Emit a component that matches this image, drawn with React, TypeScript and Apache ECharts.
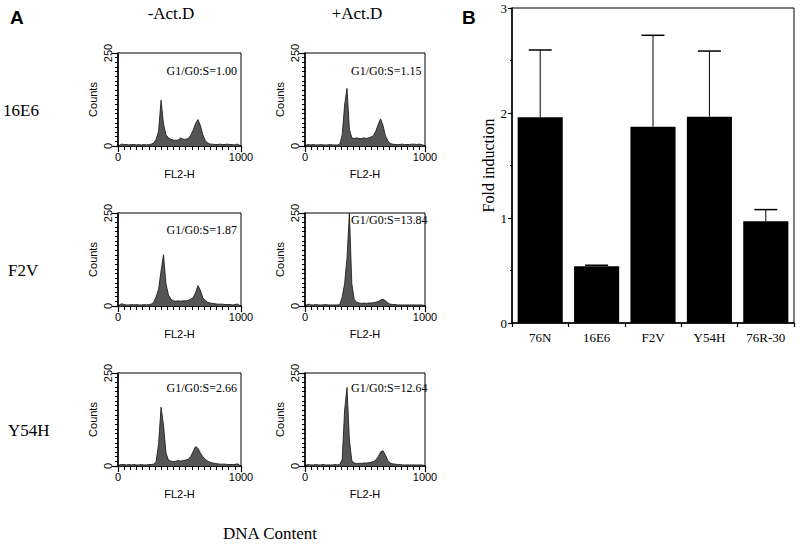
import React, { useEffect, useRef } from "react";
import * as echarts from "echarts";

const SERIF = '"Liberation Serif", "Times New Roman", serif';
const SANS = '"Liberation Sans", Arial, sans-serif';

// DNA content channel (bin centres, FL2-H)
const BIN_CENTERS = [10, 30, 50, 70, 90, 110, 130, 150, 170, 190, 210, 230, 250, 270, 290, 310, 330, 350, 370, 390, 410, 430, 450, 470, 490, 510, 530, 550, 570, 590, 610, 630, 650, 670, 690, 710, 730, 750, 770, 790, 810, 830, 850, 870, 890, 910, 930, 950, 970, 990];

// Counts per bin
const C_16E6_MINUS = [2, 5, 4, 4, 3, 4, 4, 3, 4, 3, 4, 3, 4, 5, 8, 18, 40, 123, 60, 30, 22, 18, 16, 15, 16, 22, 18, 18, 20, 28, 42, 60, 71, 55, 30, 14, 8, 5, 5, 4, 4, 5, 4, 4, 5, 4, 4, 3, 5, 2];
const C_16E6_PLUS = [3, 4, 3, 4, 3, 3, 4, 3, 3, 3, 4, 3, 3, 3, 5, 30, 110, 155, 45, 22, 20, 22, 20, 20, 22, 20, 22, 24, 28, 40, 58, 73, 55, 28, 14, 7, 5, 4, 4, 4, 5, 4, 4, 4, 5, 5, 4, 5, 4, 2];
const C_F2V_MINUS = [3, 6, 4, 3, 3, 4, 3, 4, 3, 3, 4, 3, 4, 5, 10, 25, 45, 95, 138, 60, 30, 18, 14, 13, 14, 13, 14, 14, 15, 18, 22, 35, 55, 42, 22, 14, 10, 8, 7, 6, 5, 5, 5, 4, 4, 4, 3, 4, 5, 2];
const C_F2V_PLUS = [3, 5, 3, 3, 4, 3, 3, 3, 4, 3, 3, 3, 3, 3, 4, 25, 60, 130, 250, 60, 18, 10, 8, 7, 8, 7, 8, 8, 9, 10, 12, 16, 18, 14, 8, 5, 4, 4, 3, 3, 3, 3, 3, 3, 3, 3, 3, 3, 3, 2];
const C_Y54H_MINUS = [3, 4, 4, 3, 4, 3, 4, 3, 3, 4, 3, 3, 4, 4, 5, 12, 60, 158, 110, 35, 16, 13, 12, 13, 15, 13, 15, 16, 18, 25, 38, 52, 48, 35, 25, 18, 13, 10, 8, 7, 6, 5, 5, 5, 4, 4, 4, 4, 6, 2];
const C_Y54H_PLUS = [3, 4, 3, 3, 4, 3, 3, 4, 3, 3, 3, 3, 4, 3, 4, 18, 150, 211, 70, 15, 8, 7, 7, 7, 8, 8, 9, 10, 12, 16, 25, 38, 41, 30, 15, 8, 6, 5, 4, 4, 3, 3, 3, 3, 3, 3, 3, 3, 3, 2];

const RATIO_LABELS = ["G1/G0:S=1.00", "G1/G0:S=1.15", "G1/G0:S=1.87", "G1/G0:S=13.84", "G1/G0:S=2.66", "G1/G0:S=12.64"];
const ROW_LABELS = ["16E6", "F2V", "Y54H"];
const COLUMN_LABELS = ["-Act.D", "+Act.D"];
const HIST_X_TICKS = [0, 1000];
const HIST_Y_TICKS = [0, 250];

// Panel B
const CATEGORIES = ["76N", "16E6", "F2V", "Y54H", "76R-30"];
const FOLD_INDUCTION = [1.96, 0.54, 1.87, 1.965, 0.97];
const ERROR_UPPER = [2.6, 0.55, 2.74, 2.59, 1.08];
const FOLD_TICKS = [0, 3];

const HIST_COUNTS = [C_16E6_MINUS, C_16E6_PLUS, C_F2V_MINUS, C_F2V_PLUS, C_Y54H_MINUS, C_Y54H_PLUS];

// layout of the six histogram boxes
const LAYOUT = [
  { left: 118, top: 53, w: 123, lx: 237, ly: 71, align: "right" },
  { left: 305, top: 53, w: 120, lx: 351, ly: 71, align: "left" },
  { left: 118, top: 213, w: 123, lx: 237, ly: 230, align: "right" },
  { left: 305, top: 213, w: 120, lx: 351, ly: 220, align: "left" },
  { left: 118, top: 373, w: 123, lx: 237, ly: 388, align: "right" },
  { left: 305, top: 373, w: 120, lx: 351, ly: 388, align: "left" },
];
const HIST_H = 93;

export default function App() {
  const ref = useRef<HTMLDivElement>(null);
  useEffect(() => {
    if (!ref.current) return;
    const chart = echarts.init(ref.current, null, { renderer: "svg" });

    const grids: any[] = [];
    const xAxes: any[] = [];
    const yAxes: any[] = [];
    const series: any[] = [];
    const graphics: any[] = [];

    LAYOUT.forEach((L, k) => {
      grids.push({
        left: L.left,
        top: L.top,
        width: L.w,
        height: HIST_H,
        show: true,
        borderColor: "#000",
        borderWidth: 1,
        backgroundColor: "transparent",
      });
      xAxes.push({
        gridIndex: k,
        type: "value",
        min: HIST_X_TICKS[0],
        max: HIST_X_TICKS[1],
        interval: HIST_X_TICKS[1] - HIST_X_TICKS[0],
        name: "FL2-H",
        nameLocation: "middle",
        nameGap: 22,
        nameTextStyle: { fontFamily: SANS, fontSize: 11, color: "#000" },
        axisLine: { show: true, onZero: false, lineStyle: { color: "#000", width: 1.5 } },
        axisTick: { show: true, length: 6, lineStyle: { color: "#000", width: 1.2 } },
        minorTick: { show: true, splitNumber: 20, length: 4, lineStyle: { color: "#000", width: 1 } },
        axisLabel: { fontFamily: SANS, fontSize: 11, color: "#000", margin: 5, formatter: (v: number) => String(v) },
        splitLine: { show: false },
        minorSplitLine: { show: false },
      });
      yAxes.push({
        gridIndex: k,
        type: "value",
        min: HIST_Y_TICKS[0],
        max: HIST_Y_TICKS[1],
        interval: HIST_Y_TICKS[1] - HIST_Y_TICKS[0],
        name: "Counts",
        nameLocation: "middle",
        nameGap: 20,
        nameTextStyle: { fontFamily: SANS, fontSize: 11, color: "#000" },
        axisLine: { show: true, onZero: false, lineStyle: { color: "#000", width: 1.5 } },
        axisTick: { show: true, length: 6, lineStyle: { color: "#000", width: 1.2 } },
        minorTick: { show: true, splitNumber: 20, length: 3, lineStyle: { color: "#000", width: 1 } },
        axisLabel: { fontFamily: SANS, fontSize: 11, color: "#000", margin: 5, rotate: 90, formatter: (v: number) => String(v) },
        splitLine: { show: false },
        minorSplitLine: { show: false },
      });
      series.push({
        type: "line",
        xAxisIndex: k,
        yAxisIndex: k,
        data: BIN_CENTERS.map((x, i) => [x, HIST_COUNTS[k][i]]),
        symbol: "none",
        smooth: false,
        clip: true,
        lineStyle: { color: "#111", width: 0.8 },
        areaStyle: { color: "#555555", opacity: 1 },
      });
      graphics.push({
        type: "text",
        style: {
          text: RATIO_LABELS[k],
          x: L.lx,
          y: L.ly,
          textAlign: L.align,
          textVerticalAlign: "middle",
          font: `12px ${SERIF}`,
          fill: "#000",
        },
      });
    });

    // Panel B
    const bIdx = LAYOUT.length;
    grids.push({
      left: 512,
      top: 8,
      width: 282,
      height: 315,
      show: true,
      borderColor: "#000",
      borderWidth: 1,
      backgroundColor: "transparent",
    });
    xAxes.push({
      gridIndex: bIdx,
      type: "category",
      data: CATEGORIES,
      axisLine: { show: true, lineStyle: { color: "#000", width: 1.5 } },
      axisTick: { show: true, length: 4, lineStyle: { color: "#000", width: 1.2 } },
      axisLabel: { fontFamily: SERIF, fontSize: 13, color: "#000", margin: 8 },
    });
    yAxes.push({
      gridIndex: bIdx,
      type: "value",
      min: FOLD_TICKS[0],
      max: FOLD_TICKS[1],
      interval: 1,
      name: "Fold induction",
      nameLocation: "middle",
      nameGap: 16,
      nameTextStyle: { fontFamily: SERIF, fontSize: 16, color: "#000" },
      axisLine: { show: true, lineStyle: { color: "#000", width: 1.5 } },
      axisTick: { show: true, length: 4, lineStyle: { color: "#000", width: 1.2 } },
      minorTick: { show: true, splitNumber: 2, length: 2, lineStyle: { color: "#000", width: 1 } },
      axisLabel: { fontFamily: SERIF, fontSize: 13, color: "#000", margin: 5 },
      splitLine: { show: false },
      minorSplitLine: { show: false },
    });
    series.push({
      type: "bar",
      xAxisIndex: bIdx,
      yAxisIndex: bIdx,
      data: FOLD_INDUCTION,
      barWidth: "80%",
      itemStyle: { color: "#000" },
      z: 2,
    });
    series.push({
      type: "custom",
      xAxisIndex: bIdx,
      yAxisIndex: bIdx,
      z: 3,
      data: CATEGORIES.map((c, i) => [i, FOLD_INDUCTION[i], ERROR_UPPER[i]]),
      renderItem: (params: any, api: any) => {
        const i = api.value(0);
        const p0 = api.coord([i, api.value(1)]);
        const p1 = api.coord([i, api.value(2)]);
        const hw = 11.5;
        return {
          type: "group",
          children: [
            { type: "line", shape: { x1: p0[0], y1: p0[1], x2: p1[0], y2: p1[1] }, style: { stroke: "#000", lineWidth: 1 } },
            { type: "line", shape: { x1: p1[0] - hw, y1: p1[1], x2: p1[0] + hw, y2: p1[1] }, style: { stroke: "#000", lineWidth: 1.5 } },
          ],
        };
      },
    });

    // Figure texts
    graphics.push(
      { type: "text", style: { text: "A", x: 10, y: 17, textVerticalAlign: "middle", font: `bold 19px ${SANS}`, fill: "#000" } },
      { type: "text", style: { text: "B", x: 462, y: 17, textVerticalAlign: "middle", font: `bold 19px ${SANS}`, fill: "#000" } },
      { type: "text", style: { text: COLUMN_LABELS[0], x: 171, y: 13, textAlign: "center", textVerticalAlign: "middle", font: `17px ${SERIF}`, fill: "#000" } },
      { type: "text", style: { text: COLUMN_LABELS[1], x: 357, y: 13, textAlign: "center", textVerticalAlign: "middle", font: `17px ${SERIF}`, fill: "#000" } },
      { type: "text", style: { text: ROW_LABELS[0], x: 3, y: 110, textVerticalAlign: "middle", font: `17px ${SERIF}`, fill: "#000" } },
      { type: "text", style: { text: ROW_LABELS[1], x: 8, y: 270, textVerticalAlign: "middle", font: `17px ${SERIF}`, fill: "#000" } },
      { type: "text", style: { text: ROW_LABELS[2], x: 8, y: 430, textVerticalAlign: "middle", font: `17px ${SERIF}`, fill: "#000" } },
      { type: "text", style: { text: "DNA Content", x: 223, y: 533, textVerticalAlign: "middle", font: `17px ${SERIF}`, fill: "#000" } }
    );

    chart.setOption({
      animation: false,
      backgroundColor: "#fff",
      textStyle: { fontFamily: SANS },
      grid: grids,
      xAxis: xAxes,
      yAxis: yAxes,
      series,
      graphic: graphics,
    });
    return () => chart.dispose();
  }, []);
  return (
    <div
      ref={ref}
      style={{ position: "fixed", left: 0, top: 0, width: 800, height: 547, background: "#fff" }}
    />
  );
}
